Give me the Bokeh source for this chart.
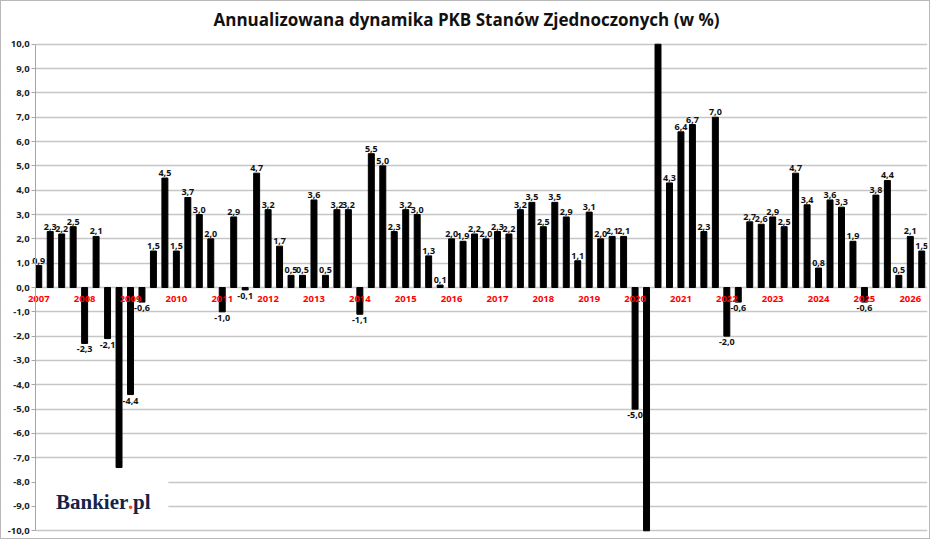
from bokeh.plotting import figure
from bokeh.models import ColumnDataSource, FixedTicker, Range1d, CustomJSTickFormatter
from bokeh.embed import file_html
from bokeh.resources import INLINE
from bokeh.core.properties import value

TITLE = "Annualizowana dynamika PKB Stanów Zjednoczonych (w %)"

# year labels (one per 4 quarters, starting 2007 Q1)
years = [str(y) for y in range(2007, 2027)]

# annualised quarterly GDP growth, 2007 Q1 .. 2026 Q2
gdp = [0.9, 2.3, 2.2, 2.5,
       -2.3, 2.1, -2.1, -7.4,
       -4.4, -0.6, 1.5, 4.5,
       1.5, 3.7, 3.0, 2.0,
       -1.0, 2.9, -0.1, 4.7,
       3.2, 1.7, 0.5, 0.5,
       3.6, 0.5, 3.2, 3.2,
       -1.1, 5.5, 5.0, 2.3,
       3.2, 3.0, 1.3, 0.1,
       2.0, 1.9, 2.2, 2.0,
       2.3, 2.2, 3.2, 3.5,
       2.5, 3.5, 2.9, 1.1,
       3.1, 2.0, 2.1, 2.1,
       -5.0, -28.0, 35.3, 4.3,
       6.4, 6.7, 2.3, 7.0,
       -2.0, -0.6, 2.7, 2.6,
       2.9, 2.5, 4.7, 3.4,
       0.8, 3.6, 3.3, 1.9,
       -0.6, 3.8, 4.4, 0.5,
       2.1, 1.5]

# quarters whose data label is not shown in the original
hidden_labels = [7, 53, 54]

# value axis limits of the original chart
y_min, y_max = -10, 10

n = len(gdp)
idx = list(range(n))
labels = ["" if i in hidden_labels else f"{v:.1f}".replace(".", ",") for i, v in enumerate(gdp)]
# bars are cut at the value-axis limits, as in the original
bar_top = [min(max(v, y_min), y_max) for v in gdp]

pos = ColumnDataSource(dict(x=[i for i in idx if gdp[i] >= 0],
                            y=[gdp[i] for i in idx if gdp[i] >= 0],
                            t=[labels[i] for i in idx if gdp[i] >= 0]))
neg = ColumnDataSource(dict(x=[i for i in idx if gdp[i] < 0],
                            y=[gdp[i] for i in idx if gdp[i] < 0],
                            t=[labels[i] for i in idx if gdp[i] < 0]))

X0 = -2.9      # left edge of frame (room for the y tick labels)
AX = -0.26     # where the y axis sits
X1 = 77.5
PAD = 0.4      # room above/below the value limits for tick labels

p = figure(width=930, height=539, output_backend="svg", toolbar_location=None,
           x_range=Range1d(X0, X1), y_range=Range1d(y_min - PAD, y_max + PAD),
           min_border_left=4, min_border_right=4, min_border_top=31, min_border_bottom=0)
p.styles = {"border": "1px solid #b8b8b8"}

p.title.text = TITLE
p.title.align = "center"
p.title.text_font = "Open Sans"
p.title.text_font_style = "bold"
p.title.text_font_size = "17px"
p.title.text_color = "#111111"
p.title.standoff = 8

p.outline_line_color = None
p.xaxis.visible = False
p.xgrid.visible = False
p.ygrid.grid_line_color = "#c6c6c6"
p.ygrid.grid_line_width = 1.5

ya = p.yaxis[0]
ya.fixed_location = AX
ya.bounds = (y_min, y_max)
ya.ticker = FixedTicker(ticks=list(range(y_min, y_max + 1)))
ya.formatter = CustomJSTickFormatter(code="return tick.toFixed(1).replace('.', ',');")
ya.axis_line_color = "#a6a6a6"
ya.major_tick_line_color = "#a6a6a6"
ya.major_tick_out = 4
ya.major_tick_in = 0
ya.minor_tick_out = 0
ya.minor_tick_in = 0
ya.major_label_standoff = 2
ya.major_label_text_font = "Open Sans"
ya.major_label_text_font_style = "bold"
ya.major_label_text_font_size = "9.5px"
ya.major_label_text_color = "#222222"

# white band behind the y tick labels (hides grid lines left of the axis)
p.quad(left=X0, right=AX, bottom=y_min - PAD, top=y_max + PAD, fill_color="white", line_color=None)

p.vbar(x=idx, top=bar_top, bottom=0, width=0.52, color="black")

p.text(x="x", y="y", text="t", source=pos, text_align="center", text_baseline="bottom",
       y_offset=-2, text_font=value("Open Sans"), text_font_style="bold",
       text_font_size="9px", text_color="#111111")
p.text(x="x", y="y", text="t", source=neg, text_align="center", text_baseline="top",
       y_offset=3, text_font=value("Open Sans"), text_font_style="bold",
       text_font_size="9px", text_color="#111111")

# year labels just under the zero line
p.text(x=[4 * i for i in range(len(years))], y=[0] * len(years), text=years,
       text_align="center", text_baseline="top", y_offset=8,
       text_font=value("Open Sans"), text_font_style="bold", text_font_size="9.5px",
       text_color="#ff0000")

# logo
p.quad(left=AX, right=11.3, bottom=-9.55, top=-7.55, fill_color="white", line_color=None)
logo_font = value("Liberation Serif")
p.text(x=[1.5], y=[-8.8], text=["Bankier"], text_align="left", text_baseline="alphabetic",
       text_font=logo_font, text_font_style="bold", text_font_size="21px", text_color="#14234a")
p.text(x=[1.5], y=[-8.8], text=["."], x_offset=72, text_align="left", text_baseline="alphabetic",
       text_font=logo_font, text_font_style="bold", text_font_size="21px", text_color="#e8501e")
p.text(x=[1.5], y=[-8.8], text=["pl"], x_offset=77, text_align="left", text_baseline="alphabetic",
       text_font=logo_font, text_font_style="bold", text_font_size="21px", text_color="#14234a")

open("out.html", "w").write(file_html(p, INLINE))
